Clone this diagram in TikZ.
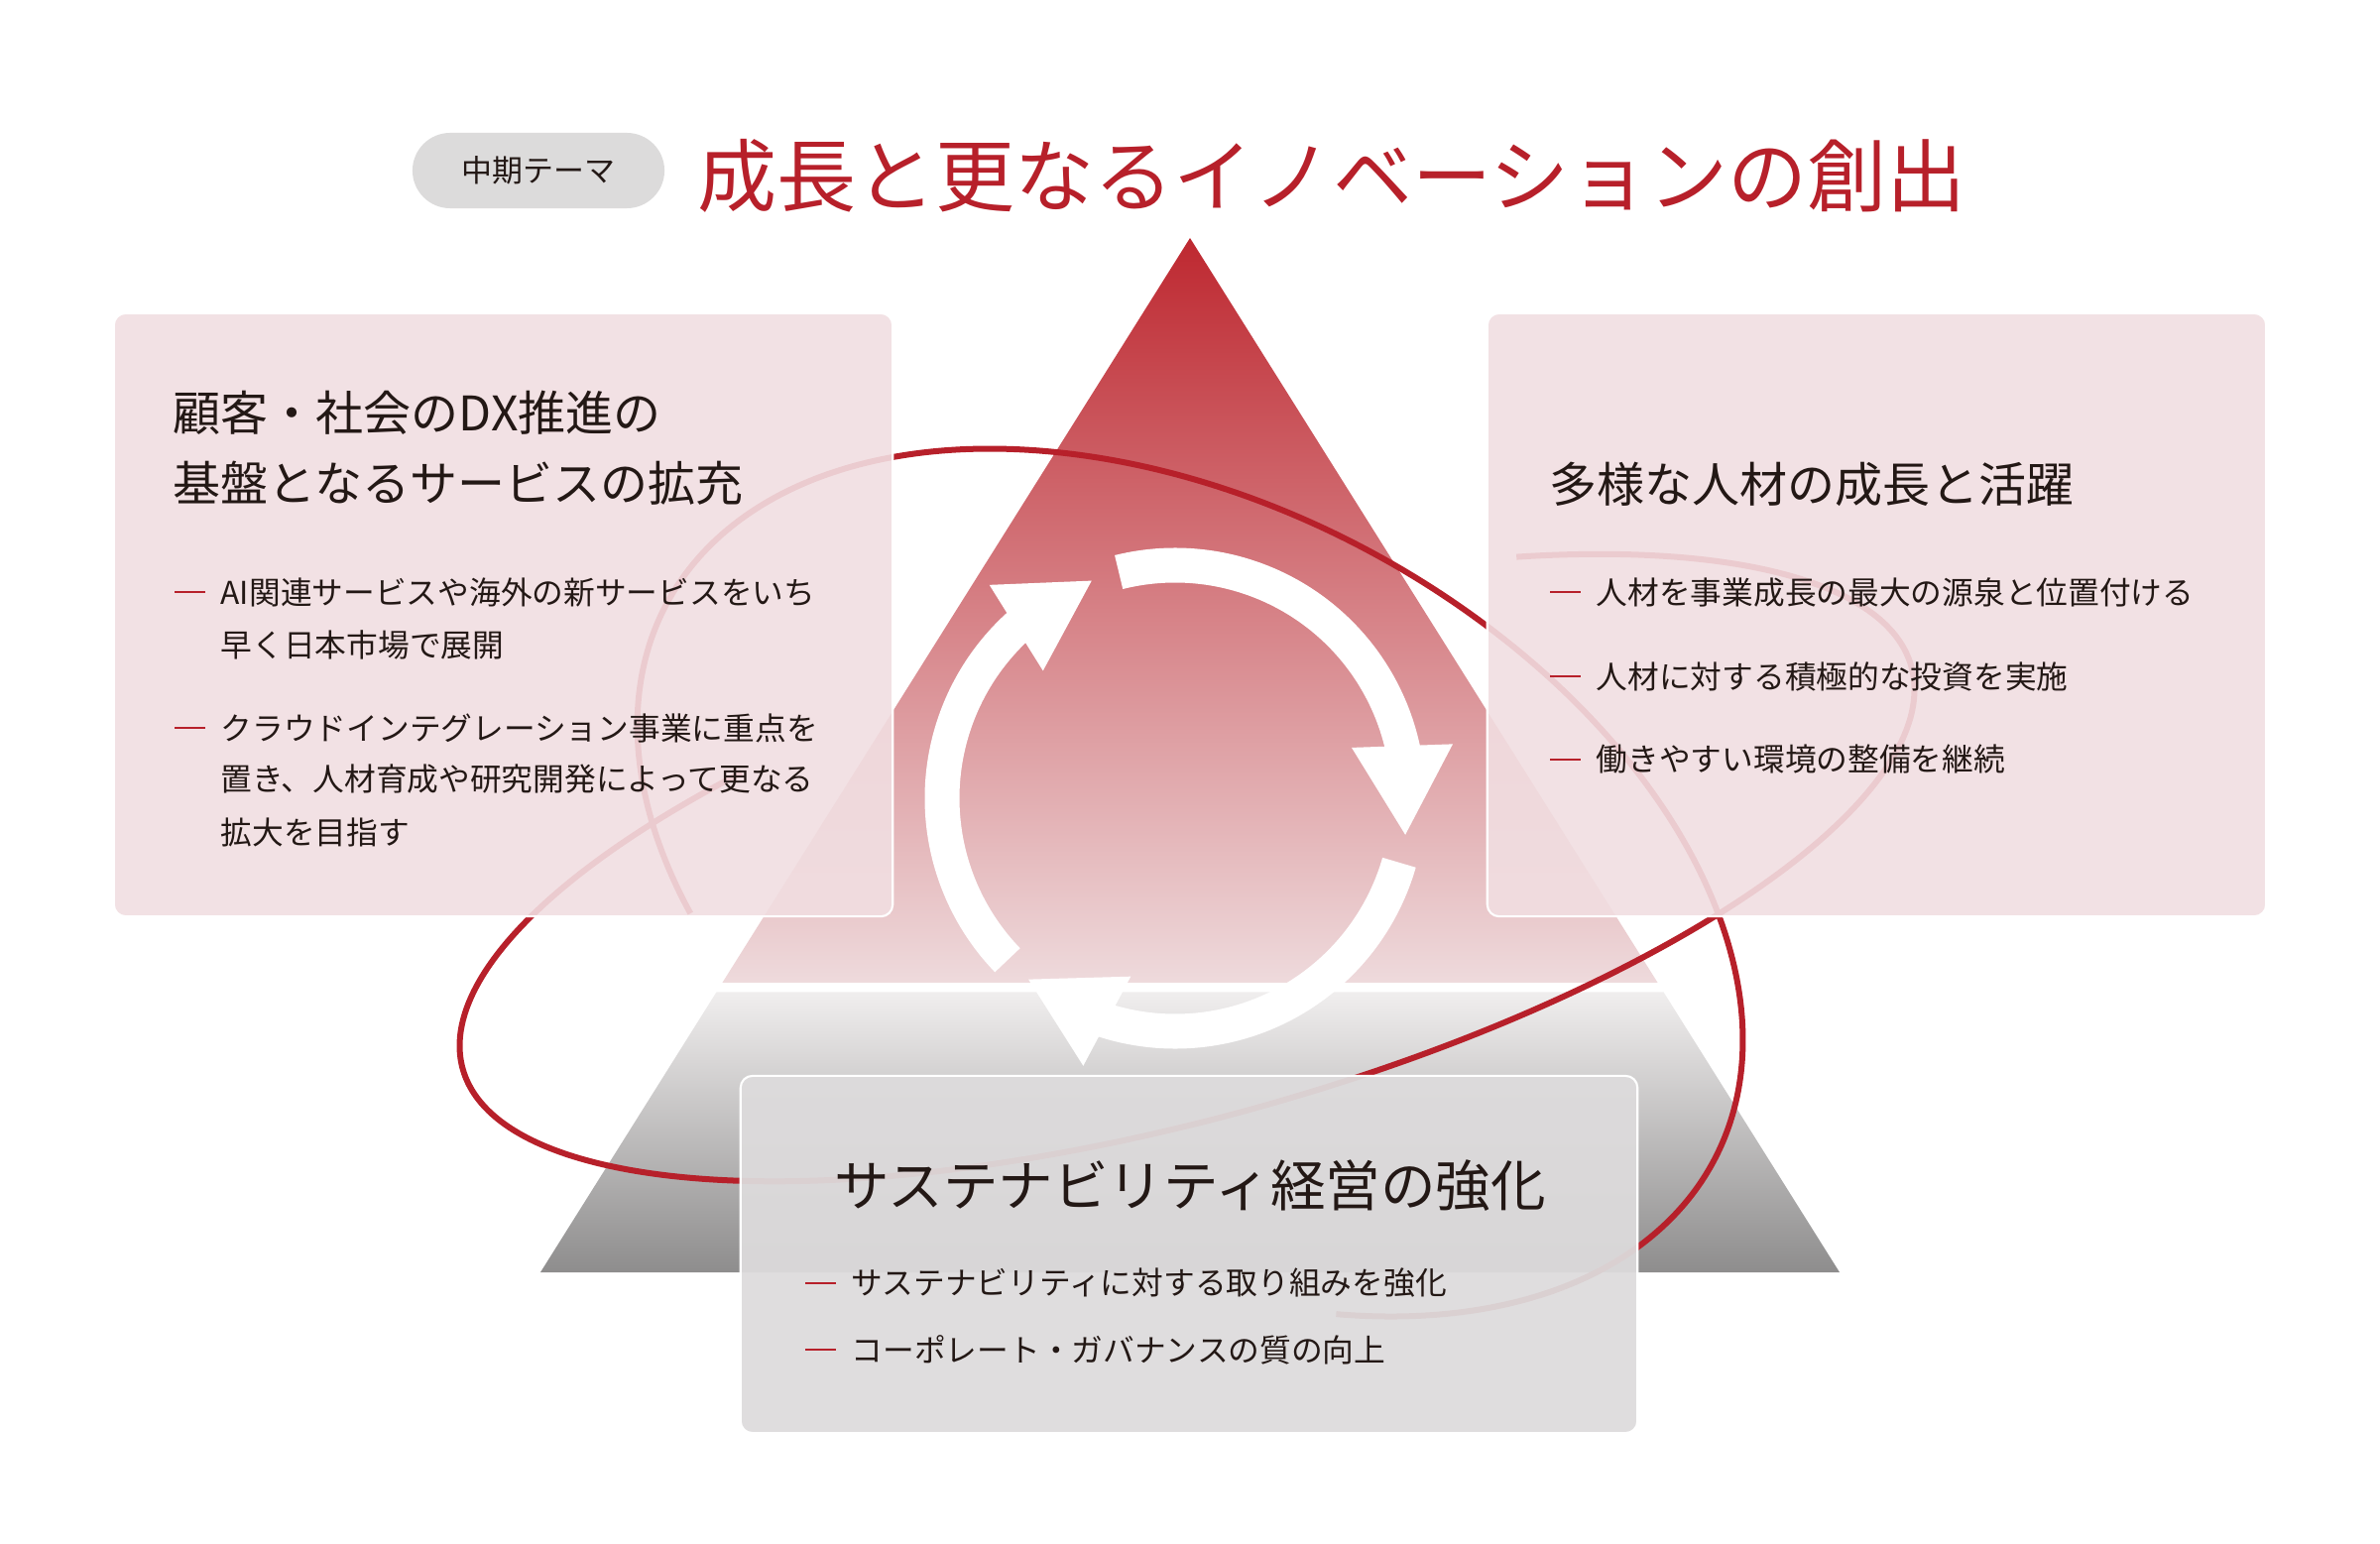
\documentclass[tikz,border=0pt]{standalone}
\usepackage{fontspec}
\setmainfont{Noto Sans CJK JP}
\usetikzlibrary{calc}

\definecolor{themered}{RGB}{183,32,42}
\definecolor{inkblack}{RGB}{35,24,21}
\definecolor{pillgray}{RGB}{220,219,219}
\definecolor{pinkpanel}{RGB}{241,222,225}
\definecolor{graypanel}{RGB}{221,219,220}
\definecolor{redtop}{RGB}{190,40,48}
\definecolor{redbottom}{RGB}{238,218,220}
\definecolor{graytop}{RGB}{240,238,238}
\definecolor{graybottom}{RGB}{142,141,141}

\tikzset{
    panel/.style = {draw = white, line width = 0.6pt, rounded corners = 0.12cm, inner sep = 0pt},
    heading/.style = {anchor = west, inner sep = 0pt, text = inkblack, font = \fontsize{13.66}{16}\selectfont},
    itemtext/.style = {anchor = west, inner sep = 0pt, text = inkblack, font = \fontsize{9.02}{11}\selectfont},
    itemdash/.style = {themered, line width = 0.6pt},
    orbit/.style = {themered, line width = 0.06cm}
}

\begin{document}
\begin{tikzpicture}[x = 0.01cm, y = 0.01cm]
    \useasboundingbox (0,0) rectangle (2400,1556);
    \coordinate (A) at (1200,1316);
    \coordinate (BL) at (545,273);
    \coordinate (BR) at (1855,273);
    \shade[top color = redtop, bottom color = redbottom] (A) -- ($(A)!0.72!(BL)$) -- ($(A)!0.72!(BR)$) -- cycle;
    \shade[top color = graytop, bottom color = graybottom] ($(A)!0.729!(BL)$) -- (BL) -- (BR) -- ($(A)!0.729!(BR)$) -- cycle;
    \coordinate (C) at (1185,751);
    \foreach \s in {104,-16,224}{
        \draw[white, line width = 0.35cm] ($(C)+(\s:235)$) arc[start angle = \s, end angle = \s-94, radius = 235];
        \coordinate (HB) at ($(C)+(\s-91:235)$);
        \coordinate (HT) at ($(C)+(\s-113:235)$);
        \fill[white] ($(HB)!0.51cm!90:(HT)$) -- (HT) -- ($(HB)!0.51cm!-90:(HT)$) -- cycle;
    }
    \begin{scope}[shift = {(1200,666)}, rotate = -28]
        \draw[orbit] (-56:598 and 380) arc[start angle = -56, end angle = 224, x radius = 598, y radius = 380];
    \end{scope}
    \begin{scope}[shift = {(1197,681)}, rotate = 15.5]
        \draw[orbit] (122.5:758 and 252) arc[start angle = 122.5, end angle = 417.8, x radius = 758, y radius = 252];
    \end{scope}
    \node[panel, fill = pinkpanel, fill opacity = 0.9, minimum width = 7.85cm, minimum height = 6.08cm] (L) at (507.5,936) {};
    \node[panel, fill = pinkpanel, fill opacity = 0.9, minimum width = 7.85cm, minimum height = 6.08cm] (R) at (1892.5,936) {};
    \node[panel, fill = graypanel, fill opacity = 0.94, minimum width = 9.04cm, minimum height = 3.6cm] (S) at (1199,291) {};
    \node[fill = pillgray, rounded corners = 0.38cm, minimum width = 2.54cm, minimum height = 0.76cm, text = inkblack, font = \fontsize{8.8}{10}\selectfont] (P) at (543,1384) {中期テーマ};
    \node[anchor = west, inner sep = 0pt, text = themered, font = \fontsize{22.76}{26}\selectfont] (T) at (703,1379) {成長と更なるイノベーションの創出};
    \node[heading] (LH1) at (174,1140) {顧客・社会のDX推進の};
    \node[heading] (LH2) at (174,1069) {基盤となるサービスの拡充};
    \node[itemtext] (L1a) at (222,959) {AI関連サービスや海外の新サービスをいち};
    \node[itemtext] (L1b) at (222,906) {早く日本市場で展開};
    \node[itemtext] (L2a) at (222,822) {クラウドインテグレーション事業に重点を};
    \node[itemtext] (L2b) at (222,770) {置き、人材育成や研究開発によって更なる};
    \node[itemtext] (L2c) at (222,717) {拡大を目指す};
    \node[heading] (RH) at (1562,1068) {多様な人材の成長と活躍};
    \node[itemtext] (R1) at (1609,959) {人材を事業成長の最大の源泉と位置付ける};
    \node[itemtext] (R2) at (1609,874) {人材に対する積極的な投資を実施};
    \node[itemtext] (R3) at (1609,790) {働きやすい環境の整備を継続};
    \node[heading, anchor = center, font = \fontsize{15.8}{18}\selectfont] (SH) at (1200,360) {サステナビリティ経営の強化};
    \node[itemtext] (S1) at (858,262) {サステナビリティに対する取り組みを強化};
    \node[itemtext] (S2) at (858,195) {コーポレート・ガバナンスの質の向上};
    \foreach \n in {L1a,L2a,R1,R2,R3,S1,S2}
        \draw[itemdash] ($(\n.west)+(-46,0)$) -- ($(\n.west)+(-15,0)$);
\end{tikzpicture}
\end{document}
